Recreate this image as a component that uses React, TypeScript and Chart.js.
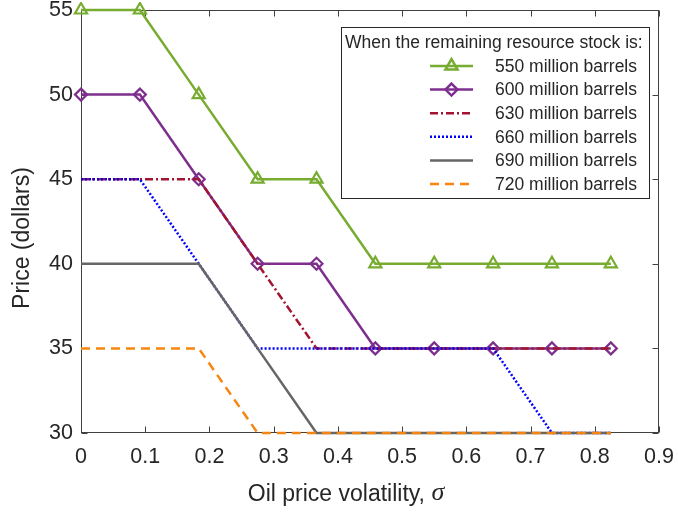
import React, { useEffect, useRef } from "react";
import { Chart, registerables } from "chart.js";

Chart.register(...registerables);

// Oil price volatility grid (sigma)
const sigma = [0, 0.0917, 0.1833, 0.275, 0.3667, 0.4583, 0.55, 0.6417, 0.7333, 0.825];

// Price thresholds (dollars) for each remaining resource stock
const stock550 = [55, 55, 50, 45, 45, 40, 40, 40, 40, 40];
const stock600 = [50, 50, 45, 40, 40, 35, 35, 35, 35, 35];
const stock630 = [45, 45, 45, 40, 35, 35, 35, 35, 35, 35];
const stock660 = [45, 45, 40, 35, 35, 35, 35, 35, 30, 30];
const stock690 = [40, 40, 40, 35, 30, 30, 30, 30, 30, 30];
const stock720 = [35, 35, 35, 30, 30, 30, 30, 30, 30, 30];

const seriesLabels = [
  "550 million barrels",
  "600 million barrels",
  "630 million barrels",
  "660 million barrels",
  "690 million barrels",
  "720 million barrels",
];

const xTicks = { min: 0, max: 0.9, step: 0.1 };
const yTicks = { min: 30, max: 55, step: 5 };

const legendTitle = "When the remaining resource stock is:";
const xTitle = "Oil price volatility, ";
const xTitleSymbol = "σ";
const yTitle = "Price (dollars)";

const FONT = "'Liberation Sans', Arial, Helvetica, sans-serif";
const TEXT = "#262626";
const AXIS = "#404040";

type Style = {
  color: string;
  dash: number[];
  marker: false | "triangle" | "rectRot";
};

const styles: Style[] = [
  { color: "#77AC30", dash: [], marker: "triangle" },
  { color: "#7E2F8E", dash: [], marker: "rectRot" },
  { color: "#A2142F", dash: [8, 3, 2, 3], marker: false },
  { color: "#0000FF", dash: [2, 2], marker: false },
  { color: "#666666", dash: [], marker: false },
  { color: "#F7850F", dash: [9, 6], marker: false },
];

function drawMarker(ctx: CanvasRenderingContext2D, kind: string, x: number, y: number, r: number) {
  ctx.beginPath();
  if (kind === "triangle") {
    ctx.moveTo(x, y - r);
    ctx.lineTo(x + r * Math.cos(Math.PI / 6), y + r / 2);
    ctx.lineTo(x - r * Math.cos(Math.PI / 6), y + r / 2);
  } else {
    ctx.moveTo(x, y - r);
    ctx.lineTo(x + r, y);
    ctx.lineTo(x, y + r);
    ctx.lineTo(x - r, y);
  }
  ctx.closePath();
  ctx.stroke();
}

// Box around the axes with inward tick marks on all four sides
const framePlugin = {
  id: "frame",
  beforeDatasetsDraw(chart: any) {
    const { ctx, chartArea: a, scales } = chart;
    const L = Math.round(a.left) + 0.5;
    const R = Math.round(a.right) - 0.5;
    const T = Math.round(a.top) + 0.5;
    const B = Math.round(a.bottom) - 0.5;
    ctx.save();
    ctx.strokeStyle = AXIS;
    ctx.lineWidth = 1;
    ctx.strokeRect(L, T, R - L, B - T);
    const len = 6;
    ctx.beginPath();
    scales.x.ticks.forEach((t: any) => {
      const px = Math.round(scales.x.getPixelForValue(t.value)) + 0.5;
      ctx.moveTo(px, B);
      ctx.lineTo(px, B - len);
      ctx.moveTo(px, T);
      ctx.lineTo(px, T + len);
    });
    scales.y.ticks.forEach((t: any) => {
      const py = Math.round(scales.y.getPixelForValue(t.value)) + 0.5;
      ctx.moveTo(L, py);
      ctx.lineTo(L + len, py);
      ctx.moveTo(R, py);
      ctx.lineTo(R - len, py);
    });
    ctx.stroke();

    // axis titles
    ctx.fillStyle = TEXT;
    ctx.textBaseline = "middle";
    ctx.font = `23px ${FONT}`;
    const w1 = ctx.measureText(xTitle).width;
    const symFont = `italic 26px 'Liberation Serif', 'Times New Roman', serif`;
    ctx.font = symFont;
    const w2 = ctx.measureText(xTitleSymbol).width;
    const x0 = 346 - (w1 + w2) / 2;
    ctx.font = `23px ${FONT}`;
    ctx.textAlign = "left";
    ctx.fillText(xTitle, x0, 495);
    ctx.font = symFont;
    ctx.fillText(xTitleSymbol, x0 + w1, 493);

    ctx.translate(23, 238);
    ctx.rotate(-Math.PI / 2);
    ctx.textAlign = "center";
    ctx.font = `23px ${FONT}`;
    ctx.fillText(yTitle, 0, 0);
    ctx.restore();
  },
};

// Legend box in the upper right of the axes
const legendPlugin = {
  id: "boxLegend",
  afterDraw(chart: any) {
    const { ctx } = chart;
    ctx.save();
    const bx = 341.5, by = 27.5, bw = 308, bh = 171;
    ctx.fillStyle = "#ffffff";
    ctx.fillRect(bx, by, bw, bh);
    ctx.strokeStyle = TEXT;
    ctx.lineWidth = 1;
    ctx.strokeRect(bx, by, bw, bh);
    ctx.fillStyle = TEXT;
    ctx.textBaseline = "middle";
    ctx.textAlign = "left";
    ctx.font = `17.5px ${FONT}`;
    ctx.fillText(legendTitle, 345, 43);
    chart.data.datasets.forEach((ds: any, i: number) => {
      const y = 66 + i * 23.6;
      const st = styles[i];
      ctx.strokeStyle = st.color;
      ctx.lineWidth = 2.5;
      ctx.setLineDash(st.dash);
      ctx.beginPath();
      ctx.moveTo(430, y);
      ctx.lineTo(473, y);
      ctx.stroke();
      ctx.setLineDash([]);
      if (st.marker) drawMarker(ctx, st.marker, 451.5, y, st.marker === "triangle" ? 7 : 6);
      ctx.fillStyle = TEXT;
      ctx.fillText(ds.label, 495, y + 1);
    });
    ctx.restore();
  },
};

const noOverflow = (s: any) => {
  s.paddingTop = 0;
  s.paddingBottom = 0;
  s.paddingLeft = 0;
  s.paddingRight = 0;
};

export default function App() {
  const ref = useRef<HTMLCanvasElement | null>(null);

  useEffect(() => {
    if (!ref.current) return;
    const seriesValues = [stock550, stock600, stock630, stock660, stock690, stock720];
    const datasets = seriesValues.map((vals, i) => {
      const st = styles[i];
      return {
        label: seriesLabels[i],
        data: vals.map((v, k) => ({ x: sigma[k], y: v })),
        borderColor: st.color,
        backgroundColor: st.color,
        borderWidth: 2.5,
        borderDash: st.dash,
        pointStyle: st.marker || "circle",
        pointRadius: st.marker ? (st.marker === "triangle" ? 7 : 6) : 0,
        pointBorderWidth: 2.2,
        pointBorderColor: st.color,
        pointBackgroundColor: "rgba(0,0,0,0)",
        tension: 0,
        clip: 8,
        order: 5 - i,
      };
    });

    const chart = new Chart(ref.current, {
      type: "line",
      data: { datasets },
      options: {
        animation: false,
        responsive: false,
        events: [],
        layout: { padding: { left: 0, top: 10, right: 19, bottom: 0 } },
        plugins: {
          legend: { display: false },
          tooltip: { enabled: false },
        },
        scales: {
          x: {
            type: "linear",
            min: xTicks.min,
            max: xTicks.max,
            grid: { display: false, drawTicks: false },
            border: { display: false },
            ticks: {
              stepSize: xTicks.step,
              padding: 11,
              color: TEXT,
              font: { family: FONT, size: 21.5 },
              callback: (v: any) => String(Math.round(Number(v) * 10) / 10),
            },
            afterFit: (s: any) => {
              s.height = 86;
              noOverflow(s);
            },
          },
          y: {
            min: yTicks.min,
            max: yTicks.max,
            grid: { display: false, drawTicks: false },
            border: { display: false },
            ticks: {
              stepSize: yTicks.step,
              padding: 8,
              color: TEXT,
              font: { family: FONT, size: 21.5 },
            },
            afterFit: (s: any) => {
              s.width = 81;
              noOverflow(s);
            },
          },
        },
      },
      plugins: [framePlugin, legendPlugin],
    });
    return () => chart.destroy();
  }, []);

  return (
    <div style={{ position: "absolute", left: 0, top: 0, width: 678, height: 519, background: "#fff" }}>
      <canvas ref={ref} width={678} height={519} style={{ display: "block" }} />
    </div>
  );
}
